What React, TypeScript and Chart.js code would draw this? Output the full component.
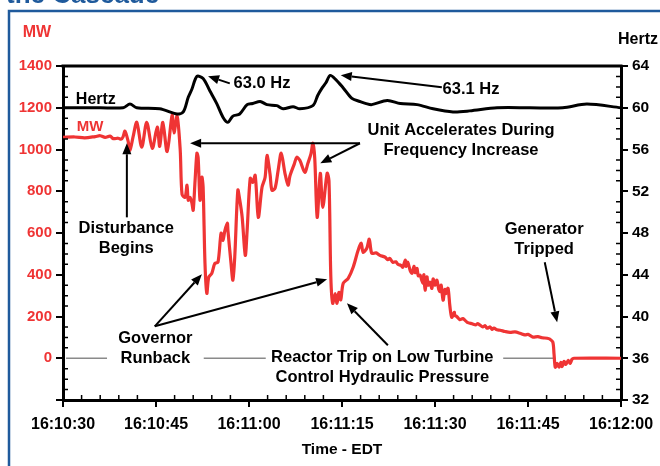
import React, { useEffect, useRef } from 'react';
import { Chart, registerables } from 'chart.js';

Chart.register(...registerables);

// Time axis: seconds after 16:10:30
const startClock = [16, 10, 30];
const xMin = 0;
const xMax = 90;
const xStep = 15;
const mwMin = -200;
const mwMax = 1400;
const mwStep = 200;
const hzMin = 32;
const hzMax = 64;
const hzStep = 4;

const mwTimes = [
  0.0, 1.9, 3.5, 5.2, 6.0, 6.8, 7.6, 8.1, 8.9, 9.4, 9.7, 10.0, 10.5, 10.8, 11.3, 11.9, 12.7, 13.5, 14.4, 15.2,
  15.6, 16.1, 16.8, 17.6, 17.9, 18.4, 18.9, 19.2, 19.7, 20.0, 20.2, 20.5, 20.8, 21.0, 21.3, 21.6, 21.8, 22.1, 22.4, 22.6,
  22.9, 23.2, 23.5, 24.0, 24.5, 25.0, 25.5, 25.8, 26.1, 26.5, 26.6, 27.1, 27.4, 27.7, 28.2, 28.5, 28.9, 29.4, 29.7, 30.2,
  30.6, 31.0, 31.5, 32.1, 32.6, 32.9, 33.4, 33.7, 34.2, 34.7, 35.2, 35.8, 36.3, 36.6, 37.3, 37.7, 38.2, 39.0, 39.5, 40.0,
  40.3, 40.6, 41.0, 41.5, 41.9, 42.6, 42.9, 43.2, 43.5, 43.9, 44.2, 44.5, 44.8, 45.2, 46.0, 46.8, 47.6, 48.1, 48.4, 49.0,
  49.4, 49.8, 50.5, 51.1, 51.9, 52.4, 52.7, 53.2, 53.7, 54.0, 54.5, 54.8, 55.2, 55.3, 55.6, 56.0, 56.3, 56.6, 56.8, 57.1,
  57.3, 57.6, 57.9, 58.1, 58.2, 58.4, 58.7, 58.9, 59.2, 59.5, 59.7, 60.0, 60.3, 60.6, 60.8, 61.0, 61.3, 61.6, 61.8, 62.1,
  62.4, 62.7, 63.1, 63.2, 63.5, 64.0, 64.5, 65.2, 66.0, 66.6, 66.9, 67.3, 67.7, 68.1, 68.4, 68.9, 69.2, 69.5, 70.0, 70.5,
  71.3, 72.1, 72.9, 73.7, 74.5, 75.0, 75.3, 75.8, 76.6, 77.3, 78.1, 78.5, 79.0, 79.2, 79.4, 79.7, 80.0, 80.3, 80.5, 80.8,
  81.1, 81.5, 81.8, 82.1, 82.4, 90.0,
];
const mwValues = [
  1058, 1060, 1056, 1062, 1066, 1058, 1064, 1052, 1054, 1050, 1062, 1088, 1040, 996, 1060, 1130, 1011, 1130, 1006, 1107,
  1015, 1130, 990, 1164, 1080, 1160, 1000, 785, 771, 829, 757, 770, 742, 709, 850, 982, 960, 757, 867, 820,
  455, 311, 388, 407, 455, 460, 599, 565, 610, 647, 613, 455, 374, 484, 805, 760, 675, 493, 613, 862,
  843, 876, 675, 819, 867, 972, 880, 805, 814, 900, 982, 886, 829, 873, 930, 963, 948, 891, 934, 980,
  1030, 960, 675, 886, 723, 886, 850, 388, 263, 310, 263, 316, 280, 359, 383, 436, 517, 551, 508, 527,
  570, 503, 505, 493, 485, 472, 478, 460, 462, 450, 445, 436, 470, 440, 460, 420, 407, 440, 410, 430,
  395, 398, 370, 360, 400, 326, 390, 350, 364, 335, 380, 350, 374, 330, 320, 350, 278, 330, 310, 335,
  250, 196, 220, 205, 200, 185, 190, 172, 165, 160, 166, 158, 150, 156, 144, 150, 138, 145, 136, 134,
  128, 124, 126, 120, 112, 114, 110, 101, 104, 98, 96, 92, 78, 20, -43, -24, -43, -20, -40, -15,
  -30, -10, -25, -5, 0, 0,
];

const hzTimes = [
  0, 6.0, 9.7, 10.8, 11.9, 15.6, 18.4, 19.4, 20.2, 20.8, 21.6, 22.6, 23.7, 24.8, 25.8, 26.6, 27.4, 28.5, 29.7, 30.6,
  31.8, 32.9, 34.5, 35.5, 37.1, 38.2, 40.3, 41.1, 41.8, 42.4, 43.1, 44.0, 45.2, 46.6, 47.9, 48.9, 49.8, 52.3, 54.4, 57.1,
  59.7, 62.9, 65.6, 70.0, 75.3, 80.6, 84.5, 90,
];
const hzValues = [
  60.0, 60.0, 60.0, 60.35, 60.0, 59.9, 59.4, 59.6, 61.0, 61.8, 63.0, 62.8, 61.6, 60.4, 59.1, 58.6, 59.2, 59.4, 60.3, 60.4,
  60.6, 60.3, 60.2, 59.9, 60.1, 59.9, 60.2, 61.2, 61.9, 62.4, 63.1, 62.7, 61.9, 60.9, 60.6, 60.4, 60.3, 60.7, 60.4, 60.3,
  59.9, 59.6, 59.7, 60.0, 60.0, 60.0, 60.35, 60.0,
];

// Annotations in data units (seconds, MW)
const annoTexts = [
  { lines: ['Hertz'], t: 5.3, mw: 1241, color: '#000', size: 16 },
  { lines: ['MW'], t: 4.35, mw: 1107, color: '#ee3333', size: 15 },
  { lines: ['63.0 Hz'], t: 32.1, mw: 1317, color: '#000', size: 16.5 },
  { lines: ['63.1 Hz'], t: 65.8, mw: 1289, color: '#000', size: 16.5 },
  { lines: ['Unit Accelerates During', 'Frequency Increase'], t: 64.2, mw: 1092, color: '#000', size: 16.5 },
  { lines: ['Disturbance', 'Begins'], t: 10.2, mw: 623, color: '#000', size: 16.5 },
  { lines: ['Governor', 'Runback'], t: 14.9, mw: 96, color: '#000', size: 16.5 },
  { lines: ['Reactor Trip on Low Turbine', 'Control Hydraulic Pressure'], t: 51.5, mw: 5, color: '#000', size: 16.5 },
  { lines: ['Generator', 'Tripped'], t: 77.6, mw: 618, color: '#000', size: 16.5 },
];
const annoArrows = [
  { from: [26.9, 1317], to: [23.4, 1351] },
  { from: [61.1, 1298], to: [44.8, 1356] },
  { from: [47.9, 1030], to: [20.5, 1030] },
  { from: [47.9, 1030], to: [41.5, 934] },
  { from: [10.3, 675], to: [10.3, 1030] },
  { from: [14.8, 153], to: [22.4, 402] },
  { from: [14.8, 153], to: [42.6, 378] },
  { from: [52.4, 62], to: [45.8, 263] },
  { from: [77.7, 460], to: [79.7, 172] },
];
const zeroLineSegments = [
  [0.5, 7.1],
  [22.7, 32.7],
  [71.0, 79.4],
];

const RED = '#ef3434';
const FONT = '"Liberation Sans", Arial, sans-serif';

function fmtTime(sec: number): string {
  const total = startClock[0] * 3600 + startClock[1] * 60 + startClock[2] + sec;
  const h = Math.floor(total / 3600);
  const m = Math.floor((total % 3600) / 60);
  const s = Math.round(total % 60);
  const p = (n: number) => String(n).padStart(2, '0');
  return `${h}:${p(m)}:${p(s)}`;
}

const decorPlugin = {
  id: 'decor',
  beforeDatasetsDraw(chart: any) {
    const ctx = chart.ctx;
    const x = chart.scales.x;
    const y = chart.scales.y;
    ctx.save();
    ctx.strokeStyle = '#8a8a8a';
    ctx.lineWidth = 1.5;
    const py = y.getPixelForValue(0);
    for (const [a, b] of zeroLineSegments) {
      ctx.beginPath();
      ctx.moveTo(x.getPixelForValue(a), py);
      ctx.lineTo(x.getPixelForValue(b), py);
      ctx.stroke();
    }
    ctx.restore();
  },
  afterDraw(chart: any) {
    const ctx = chart.ctx;
    const x = chart.scales.x;
    const y = chart.scales.y;
    const y1 = chart.scales.y1;
    const area = chart.chartArea;
    ctx.save();
    // frame / page decoration
    ctx.strokeStyle = '#1f5a9c';
    ctx.lineWidth = 2.5;
    ctx.beginPath();
    ctx.moveTo(9, 466);
    ctx.lineTo(9, 11);
    ctx.lineTo(660, 11);
    ctx.stroke();
    ctx.fillStyle = '#1f5a9c';
    ctx.font = `bold 26px ${FONT}`;
    ctx.textAlign = 'left';
    ctx.textBaseline = 'alphabetic';
    ctx.fillText('the Cascade', 6, 3);

    // top border
    ctx.strokeStyle = '#000';
    ctx.lineWidth = 3;
    ctx.beginPath();
    ctx.moveTo(area.left - 1.5, area.top);
    ctx.lineTo(area.right + 1.5, area.top);
    ctx.stroke();

    // minor ticks
    ctx.lineWidth = 1.5;
    ctx.beginPath();
    for (let t = xMin + 3; t < xMax; t += 3) {
      if (t % xStep === 0) continue;
      const px = x.getPixelForValue(t);
      ctx.moveTo(px, area.bottom);
      ctx.lineTo(px, area.bottom - 5);
    }
    for (let v = mwMin + 50; v < mwMax; v += 50) {
      if (v % mwStep === 0) continue;
      const py = y.getPixelForValue(v);
      ctx.moveTo(area.left, py);
      ctx.lineTo(area.left + 5, py);
    }
    for (let v = hzMin + 1; v < hzMax; v += 1) {
      if (v % hzStep === 0) continue;
      const py = y1.getPixelForValue(v);
      ctx.moveTo(area.right, py);
      ctx.lineTo(area.right - 5, py);
    }
    ctx.stroke();

    // axis unit labels
    ctx.font = `bold 16px ${FONT}`;
    ctx.textBaseline = 'middle';
    ctx.textAlign = 'center';
    ctx.fillStyle = RED;
    ctx.fillText('MW', 37, 33);
    ctx.fillStyle = '#000';
    ctx.fillText('Hertz', 638, 40);

    // annotation texts
    for (const a of annoTexts) {
      ctx.font = `bold ${a.size}px ${FONT}`;
      ctx.fillStyle = a.color;
      const cx = x.getPixelForValue(a.t);
      const cy = y.getPixelForValue(a.mw);
      a.lines.forEach((ln, i) => ctx.fillText(ln, cx, cy + i * 20));
    }

    // arrows
    ctx.strokeStyle = '#000';
    ctx.fillStyle = '#000';
    ctx.lineWidth = 2;
    for (const ar of annoArrows) {
      const x0 = x.getPixelForValue(ar.from[0]);
      const y0 = y.getPixelForValue(ar.from[1]);
      const x1 = x.getPixelForValue(ar.to[0]);
      const y1p = y.getPixelForValue(ar.to[1]);
      const ang = Math.atan2(y1p - y0, x1 - x0);
      const L = 11;
      const W = 4.5;
      const bx = x1 - L * Math.cos(ang);
      const by = y1p - L * Math.sin(ang);
      ctx.beginPath();
      ctx.moveTo(x0, y0);
      ctx.lineTo(bx, by);
      ctx.stroke();
      ctx.beginPath();
      ctx.moveTo(x1, y1p);
      ctx.lineTo(bx + W * Math.sin(ang), by - W * Math.cos(ang));
      ctx.lineTo(bx - W * Math.sin(ang), by + W * Math.cos(ang));
      ctx.closePath();
      ctx.fill();
    }
    ctx.restore();
  },
};

export default function App() {
  const ref = useRef<HTMLCanvasElement | null>(null);
  useEffect(() => {
    if (!ref.current) return;
    const mwData = mwTimes.map((t, i) => ({ x: t, y: mwValues[i] }));
    const hzData = hzTimes.map((t, i) => ({ x: t, y: hzValues[i] }));
    const chart = new Chart(ref.current, {
      type: 'line',
      data: {
        datasets: [
          {
            label: 'Hertz',
            data: hzData,
            yAxisID: 'y1',
            borderColor: '#000',
            borderWidth: 3,
            pointRadius: 0,
            tension: 0.3,
          },
          {
            label: 'MW',
            data: mwData,
            yAxisID: 'y',
            borderColor: RED,
            borderWidth: 3.2,
            pointRadius: 0,
            tension: 0.3,
          },
        ],
      },
      options: {
        animation: false,
        responsive: false,
        devicePixelRatio: 1,
        layout: { padding: { top: 66, left: 0, right: 0, bottom: 0 } },
        plugins: { legend: { display: false }, tooltip: { enabled: false } },
        scales: {
          x: {
            type: 'linear',
            position: 'bottom',
            min: xMin,
            max: xMax,
            ticks: {
              stepSize: xStep,
              callback: (v: any) => fmtTime(Number(v)),
              color: '#000',
              font: { family: FONT, weight: 'bold', size: 16 },
              padding: 8,
              maxRotation: 0,
              autoSkip: false,
            },
            grid: { drawOnChartArea: false, drawTicks: true, tickLength: 7, color: '#000', lineWidth: 2 },
            border: { display: true, color: '#000', width: 3 },
            title: {
              display: true,
              text: 'Time - EDT',
              color: '#000',
              font: { family: FONT, weight: 'bold', size: 15.5 },
              padding: { top: 0, bottom: 7 },
            },
            afterFit: (s: any) => {
              s.height = 66;
              s.paddingLeft = 0;
              s.paddingRight = 0;
            },
          },
          y: {
            type: 'linear',
            position: 'left',
            min: mwMin,
            max: mwMax,
            ticks: {
              stepSize: mwStep,
              callback: (v: any) => (Number(v) < 0 ? '' : String(v)),
              color: RED,
              font: { family: FONT, weight: 'bold', size: 15 },
              padding: 4,
            },
            grid: { drawOnChartArea: false, drawTicks: true, tickLength: 7, color: '#000', lineWidth: 2 },
            border: { display: true, color: '#000', width: 3 },
            afterFit: (s: any) => {
              s.width = 63;
              s.paddingTop = 0;
              s.paddingBottom = 0;
            },
          },
          y1: {
            type: 'linear',
            position: 'right',
            min: hzMin,
            max: hzMax,
            ticks: {
              stepSize: hzStep,
              color: '#000',
              font: { family: FONT, weight: 'bold', size: 15.5 },
              padding: 4,
            },
            grid: { drawOnChartArea: false, drawTicks: true, tickLength: 7, color: '#000', lineWidth: 2 },
            border: { display: true, color: '#000', width: 3 },
            afterFit: (s: any) => {
              s.width = 39;
              s.paddingTop = 0;
              s.paddingBottom = 0;
            },
          },
        },
      },
      plugins: [decorPlugin],
    });
    return () => chart.destroy();
  }, []);
  return (
    <div style={{ position: 'absolute', left: 0, top: 0, width: 660, height: 466, background: '#fff' }}>
      <canvas ref={ref} width={660} height={466} style={{ display: 'block' }} />
    </div>
  );
}
